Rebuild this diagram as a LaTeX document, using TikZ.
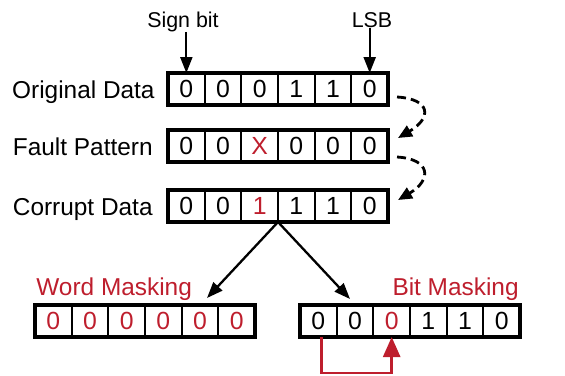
\documentclass[tikz,border=0pt]{standalone}
\usepackage{fontspec}
\setmainfont{Liberation Sans}
\usetikzlibrary{arrows.meta}
\definecolor{maskred}{RGB}{190,30,45}

\tikzset{
  cell/.style={draw, line width=1.1pt, minimum width=18.33pt, minimum height=16pt,
    inner sep=0pt, outer sep=0pt, font=\fontsize{12.4}{14}\selectfont},
  rowlabel/.style={anchor=base east, inner sep=0pt, font=\fontsize{12.2}{14}\selectfont},
  masklabel/.style={inner sep=0pt, text=maskred, font=\fontsize{12.2}{14}\selectfont},
  toplabel/.style={anchor=base, inner sep=0pt, font=\fontsize{10.7}{12}\selectfont},
  frame/.style={draw, line width=1.7pt},
  pointer/.style={-{Triangle[length=8pt,width=6pt]}, line width=1.15pt},
  dashflow/.style={-{Triangle[length=7pt,width=6pt]}, line width=1.4pt, dash pattern=on 4.5pt off 2.5pt},
  redflow/.style={-{Triangle[length=10pt,width=8.5pt]}, line width=1.35pt, maskred},
}

% one word of six bits: name, left x, centre y, digit/colour list
\newcommand{\bitrow}[4]{%
  \foreach \d/\c [count=\i] in {#4}
    \node[cell, text=\c] (#1-\i) at ({#2+(\i-0.5)*36.67}, #3) {\d};
  \draw[frame] (#1-1.north west) rectangle (#1-6.south east);
}

\begin{document}
\begin{tikzpicture}[x=0.5pt,y=-0.5pt]
  \useasboundingbox (0,0) rectangle (565,375);

  \bitrow{orig}{168}{89}{0/black,0/black,0/black,1/black,1/black,0/black}
  \bitrow{fault}{168}{146}{0/black,0/black,X/maskred,0/black,0/black,0/black}
  \bitrow{corrupt}{168}{206}{0/black,0/black,1/maskred,1/black,1/black,0/black}
  \bitrow{word}{35}{321}{0/maskred,0/maskred,0/maskred,0/maskred,0/maskred,0/maskred}
  \bitrow{bit}{300}{321}{0/black,0/black,0/maskred,1/black,1/black,0/black}

  % row names
  \node[rowlabel] (origlabel) at ([xshift=-6.5pt,yshift=-4.5pt]orig-1.west) {Original Data};
  \node[rowlabel] (faultlabel) at ([xshift=-7.5pt,yshift=-4.5pt]fault-1.west) {Fault Pattern};
  \node[rowlabel] (corruptlabel) at ([xshift=-7.5pt,yshift=-4.5pt]corrupt-1.west) {Corrupt Data};

  % bit markers
  \node[toplabel] (sign) at (183,27) {Sign bit};
  \node[toplabel] (lsb) at (372,27) {LSB};
  \draw[pointer] (orig-1.north |- sign.south) -- (orig-1.north);
  \draw[pointer] (orig-6.north |- lsb.south) -- (orig-6.north);

  % dashed steps between rows
  \coordinate (step1a) at ([shift={(9,-8)}]orig-6.south east);
  \coordinate (step1b) at ([shift={(10,8)}]fault-6.north east);
  \coordinate (step2a) at ([shift={(9,-5)}]fault-6.south east);
  \coordinate (step2b) at ([shift={(10,10)}]corrupt-6.north east);
  \draw[dashflow] (step1a) .. controls +(34,2) and +(34,-20) .. (step1b);
  \draw[dashflow] (step2a) .. controls +(34,2) and +(34,-20) .. (step2b);

  % masking choices
  \node[masklabel, anchor=base west] (wordlabel) at (36,295) {Word Masking};
  \node[masklabel, anchor=base east] (bitlabel) at (519,295) {Bit Masking};
  \coordinate (wordtip) at (207,298);
  \coordinate (bittip) at (350,299);
  \draw[pointer] (corrupt-3.south east) -- (wordtip);
  \draw[pointer] (corrupt-3.south east) -- (bittip);

  % sign bit copied into the faulty bit
  \draw[redflow] ([xshift=1.5pt]bit-1.south) -- ++(0,36) -| (bit-3.south);
\end{tikzpicture}
\end{document}
